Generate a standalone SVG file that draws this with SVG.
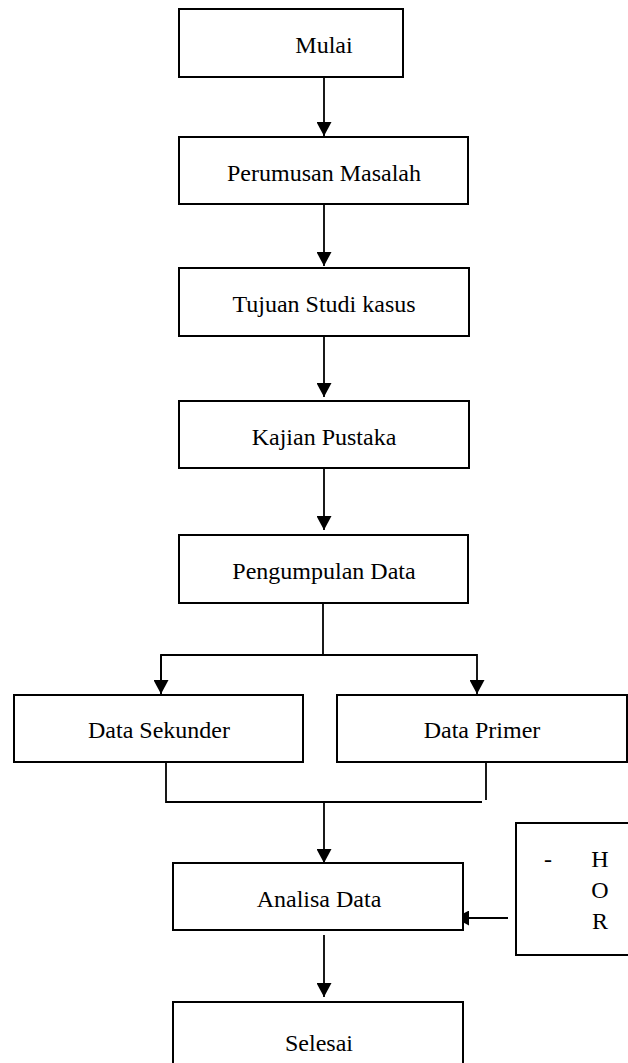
<svg xmlns="http://www.w3.org/2000/svg" width="628" height="1063" viewBox="0 0 628 1063">
<style>
.box{fill:#fff;stroke:#000;stroke-width:2}
.lbl{font-family:"Liberation Serif","Times New Roman",serif;font-size:24px;fill:#000;text-anchor:middle}
.ln{fill:none;stroke:#000;stroke-width:1.8}
</style>
<defs>
<marker id="ah" viewBox="0 0 14 15" markerWidth="14" markerHeight="15" refX="14" refY="7.5" markerUnits="userSpaceOnUse" orient="auto">
<path d="M0,0 L14,7.5 L0,15 z" fill="#000"/>
</marker>
</defs>
<rect width="628" height="1063" fill="#fff"/>
<g id="connectors">
<line class="ln" x1="324" y1="77" x2="324" y2="136" marker-end="url(#ah)"/>
<line class="ln" x1="324" y1="204" x2="324" y2="266" marker-end="url(#ah)"/>
<line class="ln" x1="324" y1="336" x2="324" y2="397" marker-end="url(#ah)"/>
<line class="ln" x1="324" y1="468" x2="324" y2="530" marker-end="url(#ah)"/>
<polyline class="ln" points="323,603 323,655"/>
<polyline class="ln" points="161,694 161,655 477,655 477,694" marker-end="url(#ah)"/>
<line class="ln" x1="161" y1="655" x2="161" y2="694" marker-end="url(#ah)"/>
<polyline class="ln" points="166,762 166,802 482,802"/>
<line class="ln" x1="486" y1="763" x2="486" y2="800"/>
<line class="ln" x1="324" y1="802" x2="324" y2="863" marker-end="url(#ah)"/>
<line class="ln" x1="324" y1="935" x2="324" y2="997" marker-end="url(#ah)"/>
<line class="ln" x1="508" y1="918" x2="455" y2="918" marker-end="url(#ah)"/>
</g>
<g id="mulai"><rect class="box" x="179" y="9" width="224" height="68"/><text class="lbl" x="324" y="53">Mulai</text></g>
<g id="perumusan"><rect class="box" x="179" y="137" width="289" height="67"/><text class="lbl" x="324" y="181">Perumusan Masalah</text></g>
<g id="tujuan"><rect class="box" x="179" y="268" width="290" height="68"/><text class="lbl" x="324" y="312">Tujuan Studi kasus</text></g>
<g id="kajian"><rect class="box" x="179" y="401" width="290" height="67"/><text class="lbl" x="324" y="445">Kajian Pustaka</text></g>
<g id="pengumpulan"><rect class="box" x="179" y="535" width="289" height="68"/><text class="lbl" x="324" y="579">Pengumpulan Data</text></g>
<g id="sekunder"><rect class="box" x="14" y="695" width="289" height="67"/><text class="lbl" x="159" y="738">Data Sekunder</text></g>
<g id="primer"><rect class="box" x="337" y="695" width="290" height="67"/><text class="lbl" x="482" y="738">Data Primer</text></g>
<g id="analisa"><rect class="box" x="173" y="863" width="290" height="67"/><text class="lbl" x="319" y="907">Analisa Data</text></g>
<g id="hor"><rect class="box" x="516" y="823" width="130" height="132"/>
<text class="lbl" x="548" y="867">-</text>
<text class="lbl" x="600" y="867">H</text>
<text class="lbl" x="600" y="898">O</text>
<text class="lbl" x="600" y="929">R</text></g>
<g id="selesai"><rect class="box" x="173" y="1002" width="290" height="70"/><text class="lbl" x="319" y="1051">Selesai</text></g>
</svg>
